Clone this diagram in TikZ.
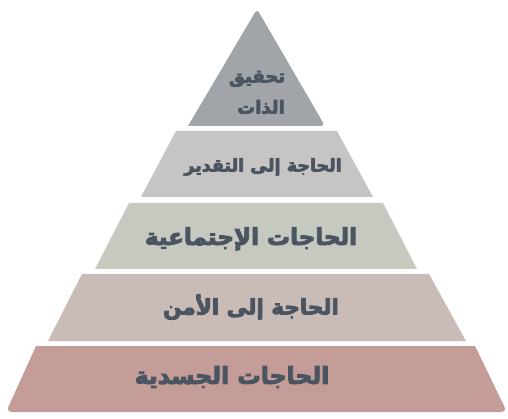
\documentclass[tikz,border=0pt]{standalone}
\usepackage{fontspec}
\TeXXeTstate=1
\newfontfamily\arabicfont[Script=Arabic, BoldFeatures={FakeBold=4}]{DejaVu Sans}
\definecolor{tierA}{HTML}{A1A5A9}
\definecolor{tierB}{HTML}{C6C5C3}
\definecolor{tierC}{HTML}{C5C9BF}
\definecolor{tierD}{HTML}{C9BCB7}
\definecolor{tierE}{HTML}{C49D99}
\definecolor{txt}{HTML}{4A5561}
\tikzset{
  tier/.style={draw=none},
  lbl/.style={text=txt, inner sep=0pt, align=center},
  fs/.style={font=\arabicfont\bfseries\fontsize{#1}{#1}\selectfont}
}
\begin{document}
\begin{tikzpicture}[x=1pt,y=-1pt]
\useasboundingbox (0,0) rectangle (508,419);
% tier 1 (triangle)
\fill[tierA, rounded corners=4pt] (188,126) -- (257,9) -- (325,126) [sharp corners]-- cycle;
% tier 2
\fill[tierB] (176,131) -- (337,131) -- (373,197) -- (141,197) -- cycle;
% tier 3
\fill[tierC] (129,203) -- (383,203) -- (417,269) -- (95,269) -- cycle;
% tier 4
\fill[tierD] (82,274) -- (429,274) -- (466,341) -- (48,341) -- cycle;
% tier 5
\fill[tierE] (36,346) -- (475,346) [rounded corners=6pt] -- (507,412) -- (6,412) [sharp corners] -- cycle;
\node[lbl, fs=18] (t1a) at (257,79) {\beginR تحقيق\endR};
\node[lbl, fs=18] (t1b) at (261,107) {\beginR الذات\endR};
\node[lbl, fs=17.5] (t2) at (263,167) {\beginR الحاجة إلى التقدير\endR};
\node[lbl, fs=23] (t3) at (251,239) {\beginR الحاجات الإجتماعية\endR};
\node[lbl, fs=21.5] (t4) at (251,307) {\beginR الحاجة إلى الأمن\endR};
\node[lbl, fs=23.5] (t5) at (232,377) {\beginR الحاجات الجسدية\endR};
\end{tikzpicture}
\end{document}
